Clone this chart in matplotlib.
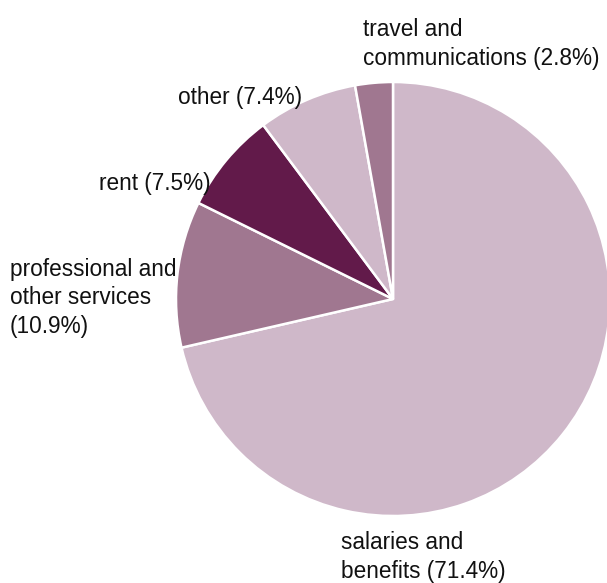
import matplotlib
matplotlib.use("Agg")
import matplotlib.pyplot as plt

categories = ["salaries and\nbenefits", "professional and\nother services", "rent", "other",
              "travel and\ncommunications"]
values = [71.4, 10.9, 7.5, 7.4, 2.8]
colors = ["#cfb8c9", "#a07790", "#621a4a", "#cfb8c9", "#a07790"]

plt.rcParams['font.family'] = ['Liberation Sans', 'DejaVu Sans']

W, H = 607, 583
fig = plt.figure(figsize=(W / 100, H / 100), dpi=100)
ax = fig.add_axes([0, 0, 1, 1])

cx, cy, r = 393, 299, 217
ax.pie(values, colors=colors, startangle=90, counterclock=False, radius=1,
       wedgeprops=dict(edgecolor="white", linewidth=1.8))
ax.set_xlim(-cx / r, (W - cx) / r)
ax.set_ylim(-(H - cy) / r, cy / r)
ax.set_aspect('auto')
ax.axis('off')

def px(x, y):
    return (x - cx) / r, (cy - y) / r

labels = [f"{c} ({v}%)" for c, v in zip(categories, values)]
labels[1] = "professional and\nother services\n(10.9%)"
fs = 16.3
opts = dict(fontsize=fs, color="#111111", linespacing=1.32)
ax.text(*px(341, 557), labels[0], ha='left', va='center', **opts)
ax.text(*px(10, 298), labels[1], ha='left', va='center', **opts)
ax.text(*px(211, 184), labels[2], ha='right', va='center', **opts)
ax.text(*px(302, 98), labels[3], ha='right', va='center', **opts)
ax.text(*px(363, 44), labels[4], ha='left', va='center', **opts)

fig.savefig("out.png", dpi=100)
